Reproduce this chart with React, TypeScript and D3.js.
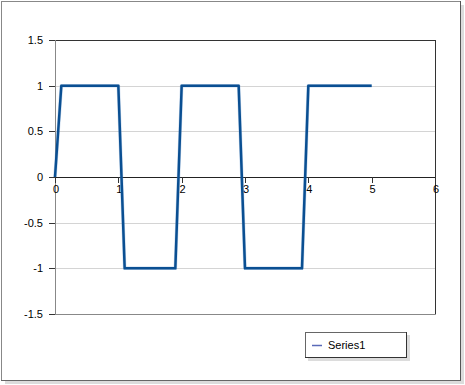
import React from "react";
import * as d3 from "d3";

const xValues = [0, 0.1, 1, 1.1, 1.9, 2, 2.9, 3, 3.9, 4, 5];
const yValues = [0, 1, 1, -1, -1, 1, 1, -1, -1, 1, 1];
const xTicks = [0, 1, 2, 3, 4, 5, 6];
const yTicks = [1.5, 1, 0.5, 0, -0.5, -1, -1.5];
const seriesName = "Series1";

export default function App() {
  const W = 465, H = 385;
  const left = 55, right = 435, top = 40, bottom = 314;
  const x = d3.scaleLinear().domain([0, 6]).range([left, right]);
  const y = d3.scaleLinear().domain([-1.5, 1.5]).range([bottom, top]);
  const pts: [number, number][] = xValues.map((v, i) => [v, yValues[i]]);
  const line = d3.line<[number, number]>().x(d => x(d[0])).y(d => y(d[1]));
  const font = "'Liberation Sans', Arial, sans-serif";
  const y0 = y(0);
  return (
    <svg width={W} height={H} style={{ position: "absolute", left: 0, top: 0 }}>
      <rect x={0} y={0} width={W} height={H} fill="#fff" />
      {/* frame shadow */}
      <rect x={5} y={5} width={459} height={379} fill="#dcdcdc" />
      <rect x={1.5} y={1.5} width={459} height={379} fill="#fff" stroke="#888" strokeWidth={1} />
      <line x1={460.5} y1={1} x2={460.5} y2={381} stroke="#555" />
      <line x1={1} y1={380.5} x2={461} y2={380.5} stroke="#666" />
      {/* gridlines */}
      {yTicks.filter(t => t !== 1.5 && t !== -1.5 && t !== 0).map(t => (
        <line key={t} x1={left} x2={right} y1={Math.round(y(t)) + 0.5} y2={Math.round(y(t)) + 0.5} stroke="#d4d4d4" />
      ))}
      {/* plot borders */}
      <line x1={left} x2={right + 0.5} y1={top + 0.5} y2={top + 0.5} stroke="#333" />
      <line x1={right + 0.5} x2={right + 0.5} y1={top} y2={bottom + 0.5} stroke="#333" />
      <line x1={left} x2={right} y1={bottom + 0.5} y2={bottom + 0.5} stroke="#888" />
      <line x1={left + 0.5} x2={left + 0.5} y1={top} y2={bottom + 1} stroke="#888" />
      {/* x axis at zero */}
      <line x1={left} x2={right + 1} y1={Math.round(y0) + 0.5} y2={Math.round(y0) + 0.5} stroke="#222" />
      {/* y ticks */}
      {yTicks.map(t => (
        <g key={t}>
          <line x1={left - 6} x2={left} y1={Math.round(y(t)) + 0.5} y2={Math.round(y(t)) + 0.5} stroke="#333" />
          <text x={43} y={y(t) + 4} textAnchor="end" fontFamily={font} fontSize={11} fill="#000">{t}</text>
        </g>
      ))}
      {/* x ticks */}
      {xTicks.map(t => (
        <g key={t}>
          <line x1={Math.round(x(t)) + 0.5} x2={Math.round(x(t)) + 0.5} y1={y0} y2={y0 + 6} stroke="#333" />
          <text x={x(t) + 1} y={y0 + 16} textAnchor="middle" fontFamily={font} fontSize={11} fill="#000">{t}</text>
        </g>
      ))}
      {/* series */}
      <path d={line(pts) || ""} fill="none" stroke="#5b8fc9" strokeWidth={3.5} strokeOpacity={0.35} strokeLinejoin="round" />
      <path d={line(pts) || ""} fill="none" stroke="#0a4f92" strokeWidth={2.5} strokeLinejoin="round" />
      {/* legend */}
      <rect x={308} y={335} width={102} height={26} fill="#dcdcdc" />
      <rect x={305.5} y={332.5} width={101} height={25} fill="#fff" stroke="#666" />
      <line x1={406.5} y1={332} x2={406.5} y2={358} stroke="#333" />
      <line x1={305} y1={357.5} x2={407} y2={357.5} stroke="#333" />
      <line x1={312} x2={322} y1={345.5} y2={345.5} stroke="#5a6ab8" strokeWidth={1.5} />
      <text x={328} y={349} fontFamily={font} fontSize={11} fill="#000">{seriesName}</text>
    </svg>
  );
}
